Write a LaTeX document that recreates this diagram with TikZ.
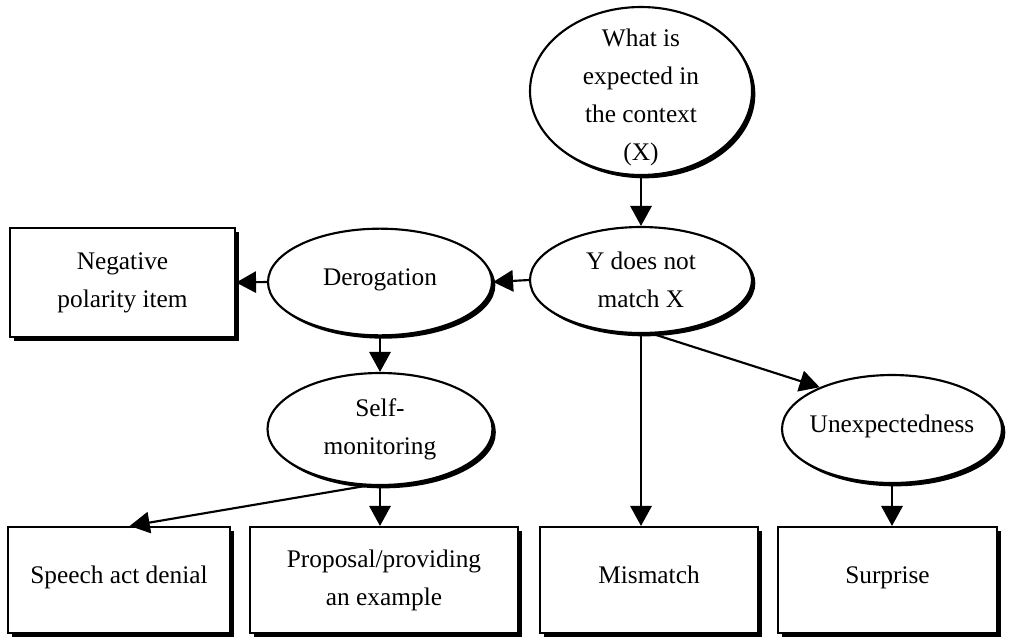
\documentclass[tikz,border=0pt]{standalone}
\usepackage{fontspec}
\setmainfont{Liberation Serif}
\usetikzlibrary{arrows.meta,shadows,shapes.geometric}
\begin{document}
\begin{tikzpicture}[x=0.75pt,y=-0.75pt,
    font=\fontsize{19}{28.5}\selectfont,
    oval/.style={ellipse,draw,line width=1.6pt,fill=white,inner sep=0pt,
        drop shadow={shadow xshift=2.5pt,shadow yshift=-2.5pt,opacity=1,fill=black}},
    box/.style={rectangle,draw,line width=1.6pt,fill=white,inner sep=0pt,
        align=center,minimum height=79.5pt,
        drop shadow={shadow xshift=3pt,shadow yshift=-3pt,opacity=1,fill=black}},
    oneline/.style={text height=0.7em,text depth=0.25em},
    arr/.style={line width=1.6pt,-{Triangle[width=16pt,length=15pt]}}]
            \useasboundingbox (0,0) rectangle (1009,636);
            \def\boty{580}
            \node[oval,minimum width=166.5pt,minimum height=126pt,
                label={[align=center,yshift=-5pt]center:What is\\expected in\\the context\\(X)}]
                (ctx) at (641,91) {};
            \node[oval,minimum width=166.5pt,minimum height=79.5pt,
                label={[align=center]center:Y does not\\match X}]
                (ymx) at (641,280) {};
            \node[oval,minimum width=168pt,minimum height=80pt,
                label={[oneline]center:Derogation}]
                (der) at (380,282) {};
            \node[oval,minimum width=168.75pt,minimum height=84pt,
                label={[align=center]center:Self-\\monitoring}]
                (self) at (380,429) {};
            \node[oval,minimum width=165pt,minimum height=81pt,
                label={[oneline]center:Unexpectedness}]
                (unexp) at (892,429) {};
            \node[box,minimum width=168.75pt,minimum height=81.75pt]
                (neg) at (122.5,282.5) {Negative\\polarity item};
            \node[box,oneline,minimum width=166.5pt] (speech) at (119,\boty) {Speech act denial};
            \node[box,minimum width=201pt] (prop) at (384,\boty) {Proposal/providing\\an example};
            \node[box,oneline,minimum width=163.5pt] (mism) at (649,\boty) {Mismatch};
            \node[box,oneline,minimum width=164.25pt] (surp) at (887.5,\boty) {Surprise};
            \draw[arr] (ctx.south)--(ymx.north);
            \draw[arr] (ymx.west)--(der.east);
            \draw[arr] (der.west)--(neg.east);
            \draw[arr] (der.south)--(self.north);
            \draw[arr] (self.south)--(self.south |- prop.north);
            \draw[arr] (self.257)--([xshift=8pt]speech.north);
            \draw[arr] (ymx.south)--(ymx.south |- mism.north);
            \draw[arr] (ymx.282)--(unexp.150);
            \draw[arr] (unexp.south)--(unexp.south |- surp.north);
            \end{tikzpicture}
\end{document}
